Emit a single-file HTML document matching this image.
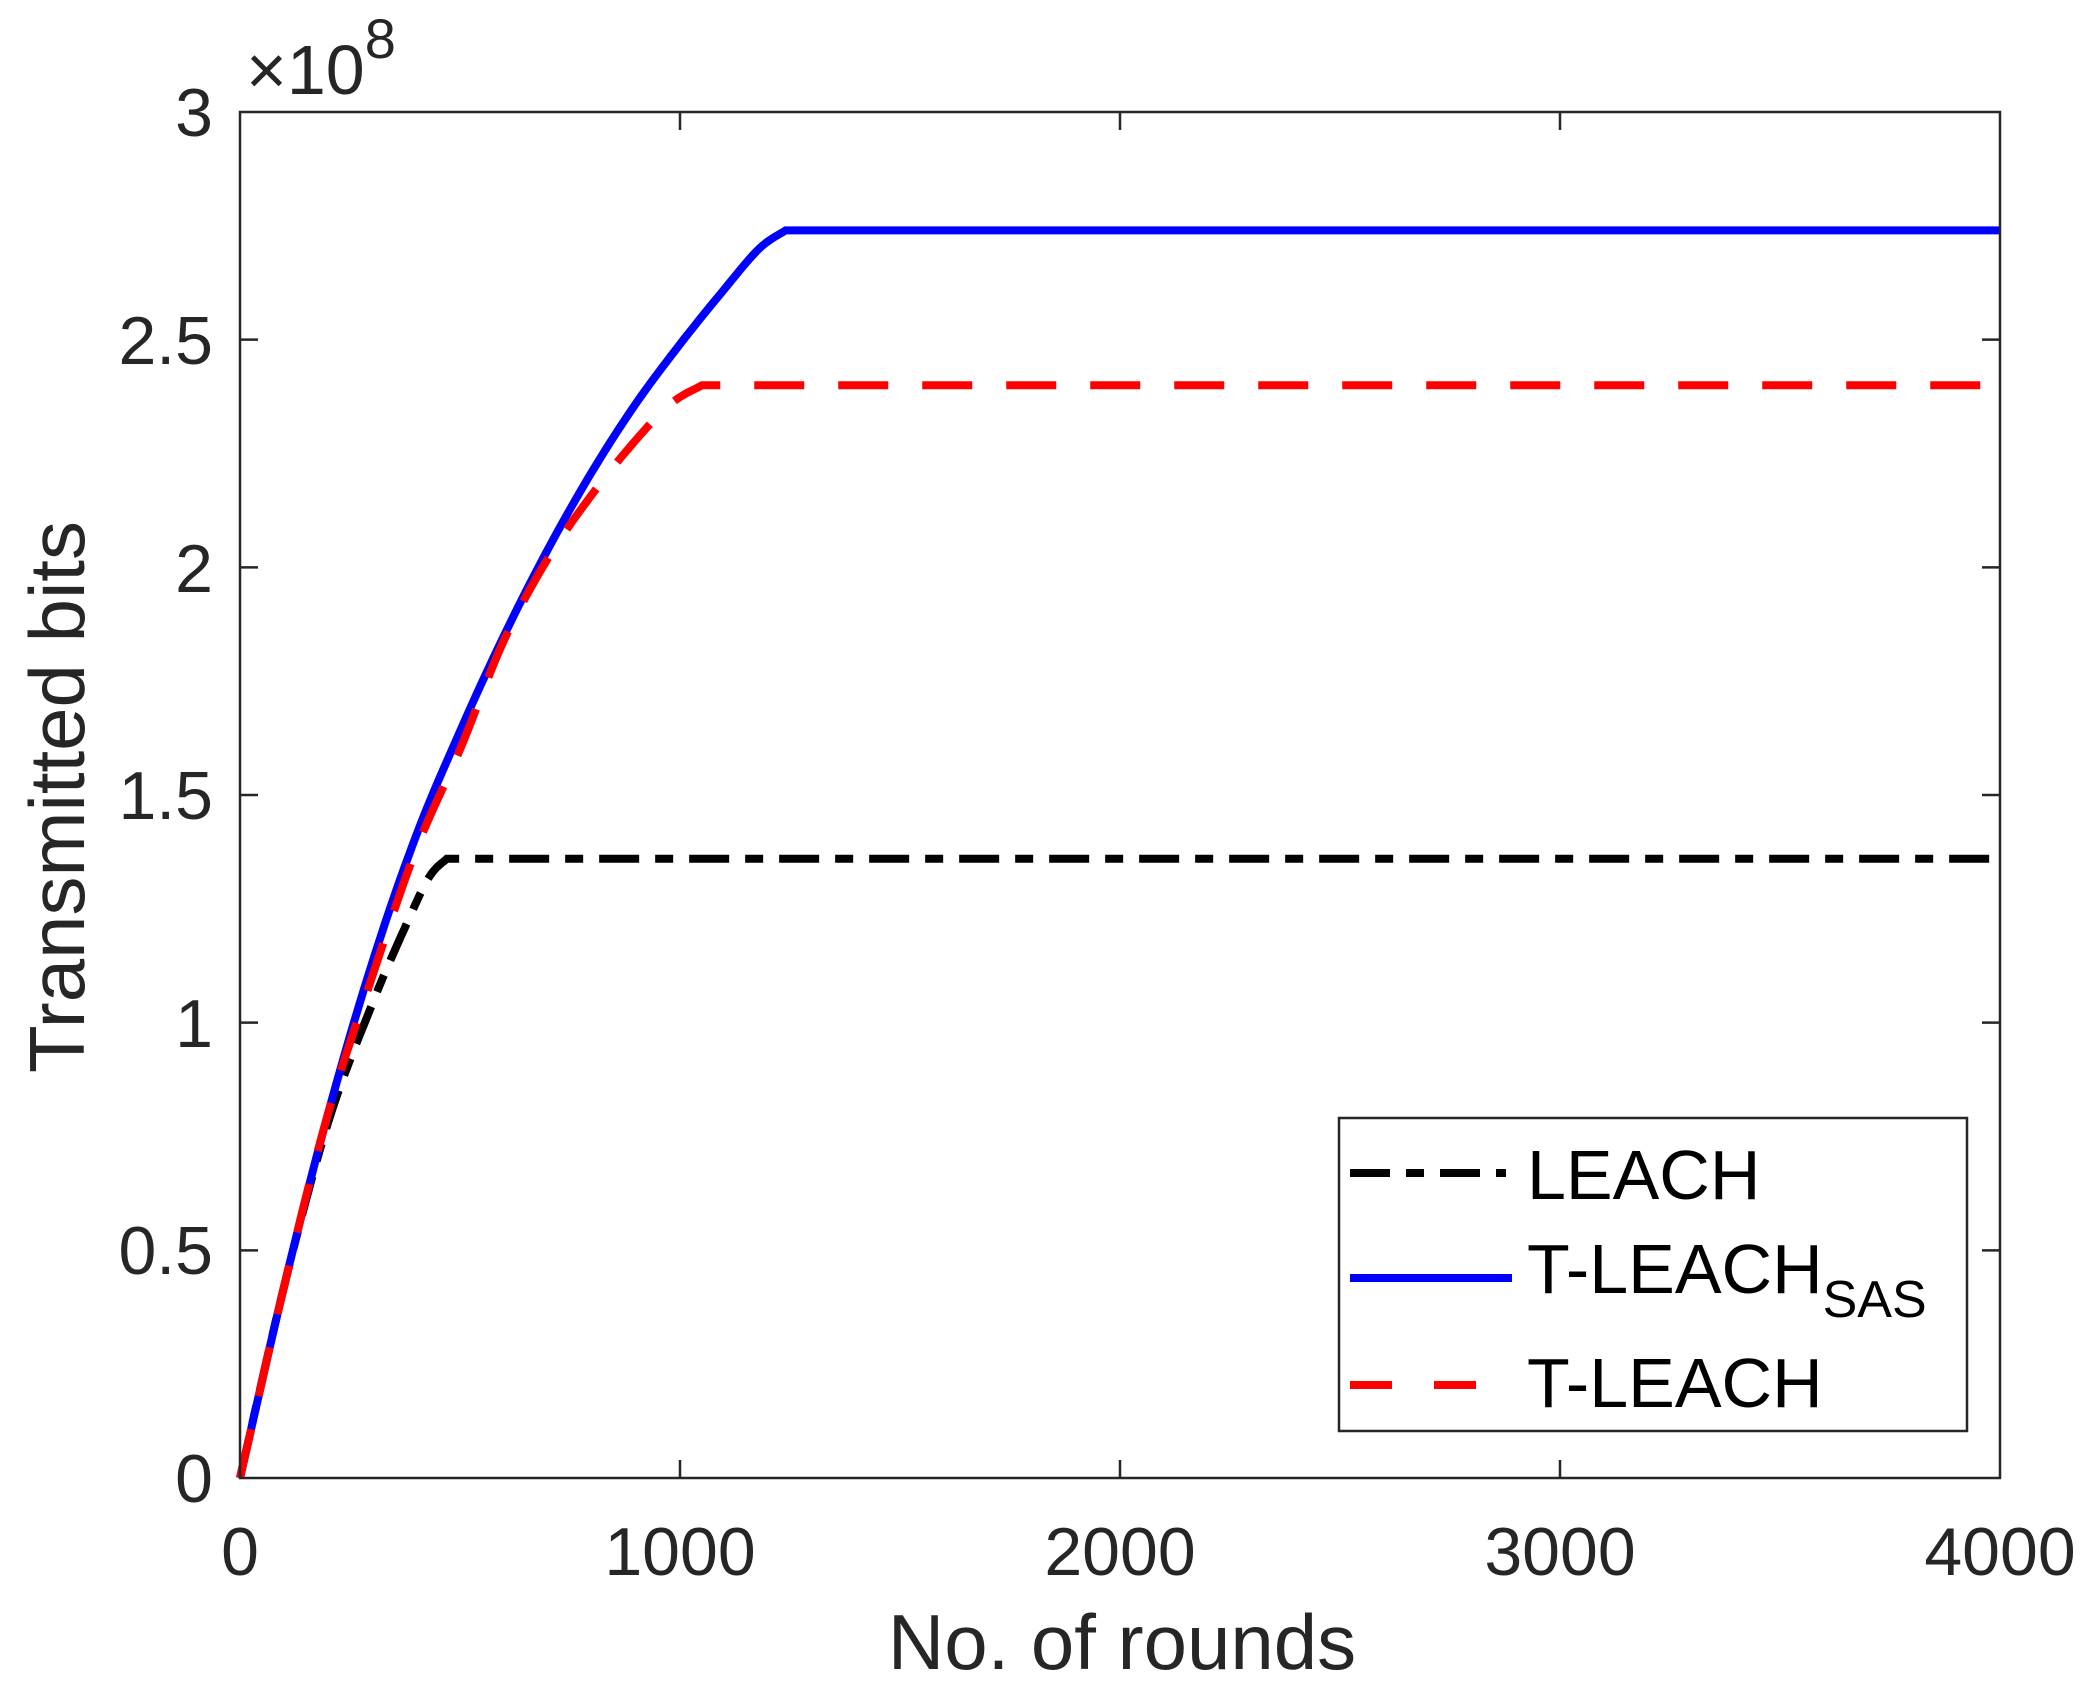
<!DOCTYPE html>
<html><head><meta charset="utf-8"><style>
html,body{margin:0;padding:0;background:#fff;}
svg{display:block;font-family:"Liberation Sans",Arial,sans-serif;}
</style></head><body>
<svg id="s" width="2100" height="1700" viewBox="0 0 2100 1700" xmlns="http://www.w3.org/2000/svg">
<rect width="2100" height="1700" fill="#fff"/>
<g id="plot"></g>
<rect x="240" y="112" width="1760" height="1366" fill="none" stroke="#262626" stroke-width="2.5"/>
<g id="ticks" stroke="#262626" stroke-width="2.5"></g>
<g font-size="68" fill="#262626">
<text x="240" y="1575" text-anchor="middle">0</text>
<text x="680" y="1575" text-anchor="middle">1000</text>
<text x="1120" y="1575" text-anchor="middle">2000</text>
<text x="1560" y="1575" text-anchor="middle">3000</text>
<text x="2000" y="1575" text-anchor="middle">4000</text>
<text x="213" y="1502" text-anchor="end">0</text>
<text x="213" y="1274" text-anchor="end">0.5</text>
<text x="213" y="1047" text-anchor="end">1</text>
<text x="213" y="819" text-anchor="end">1.5</text>
<text x="213" y="592" text-anchor="end">2</text>
<text x="213" y="364" text-anchor="end">2.5</text>
<text x="213" y="136" text-anchor="end">3</text>
<text x="246" y="94" font-size="70">×10<tspan font-size="56" dy="-36">8</tspan></text>
</g>
<text x="1122" y="1669" text-anchor="middle" font-size="78" fill="#262626">No. of rounds</text>
<text transform="translate(84,797) rotate(-90)" text-anchor="middle" font-size="78" fill="#262626">Transmitted bits</text>
<rect x="1339" y="1118" width="628" height="313" fill="#fff" stroke="#262626" stroke-width="2.5"/>
<line x1="1350" y1="1173" x2="1506" y2="1173" stroke="#000" stroke-width="8" stroke-dasharray="40,16,18,16"/>
<line x1="1350" y1="1278" x2="1512" y2="1278" stroke="#0000ff" stroke-width="8"/>
<line x1="1350" y1="1385" x2="1476" y2="1385" stroke="#ff0000" stroke-width="8" stroke-dasharray="42,42"/>
<g font-size="70" fill="#000">
<text x="1527" y="1199">LEACH</text>
<text x="1527" y="1293">T-LEACH<tspan font-size="52" dy="24">SAS</tspan></text>
<text x="1527" y="1407">T-LEACH</text>
</g>
</svg>
<script>
var L=240,R=2000,T=112,B=1478;
function X(r){return L+(R-L)*r/4000;}
function Y(v){return B-(B-T)*v/3;}
function path(pts){
  return pts.map(function(p,i){return (i?'L':'M')+X(p[0]).toFixed(1)+' '+Y(p[1]).toFixed(1);}).join(' ');
}
function smooth(pts){
  var out=[];
  for(var i=0;i<pts.length-1;i++){
    var p0=pts[Math.max(i-1,0)],p1=pts[i],p2=pts[i+1],p3=pts[Math.min(i+2,pts.length-1)];
    for(var t=0;t<1;t+=0.1){
      var t2=t*t,t3=t2*t;
      var f=function(a,b,c,d){return 0.5*((2*b)+(-a+c)*t+(2*a-5*b+4*c-d)*t2+(-a+3*b-3*c+d)*t3);};
      out.push([f(p0[0],p1[0],p2[0],p3[0]),f(p0[1],p1[1],p2[1],p3[1])]);
    }
  }
  out.push(pts[pts.length-1]);
  return out;
}
var black=smooth([[0,0],[100,0.42],[200,0.78],[300,1.04],[380,1.22],[430,1.32],[470,1.36]]).concat([[4000,1.36]]);
var red=smooth([[0,0],[100,0.42],[200,0.8],[300,1.1],[400,1.38],[500,1.6],[600,1.84],[700,2.02],[800,2.16],[900,2.28],[980,2.36],[1050,2.40]]).concat([[4000,2.40]]);
var blue=smooth([[0,0],[100,0.42],[200,0.8],[300,1.13],[400,1.41],[500,1.64],[600,1.85],[700,2.04],[800,2.21],[900,2.36],[1000,2.49],[1100,2.61],[1180,2.70],[1240,2.74]]).concat([[4000,2.74]]);
var g=document.getElementById('plot'),ns='http://www.w3.org/2000/svg';
function add(d,c,da){var p=document.createElementNS(ns,'path');p.setAttribute('d',d);p.setAttribute('fill','none');p.setAttribute('stroke',c);p.setAttribute('stroke-width','8');if(da)p.setAttribute('stroke-dasharray',da);g.appendChild(p);}
add(path(black),'#000','40,16,18,16');
add(path(blue),'#0000ff');
add(path(red),'#ff0000','50,34');
var tk=document.getElementById('ticks');
function ln(a,b,c,d){var l=document.createElementNS(ns,'line');l.setAttribute('x1',a);l.setAttribute('y1',b);l.setAttribute('x2',c);l.setAttribute('y2',d);tk.appendChild(l);}
for(var i=1;i<4;i++){var x=X(i*1000);ln(x,B,x,B-18);ln(x,T,x,T+18);}
for(var j=1;j<6;j++){var y=Y(j*0.5);ln(L,y,L+18,y);ln(R,y,R-18,y);}
</script>
</body></html>
